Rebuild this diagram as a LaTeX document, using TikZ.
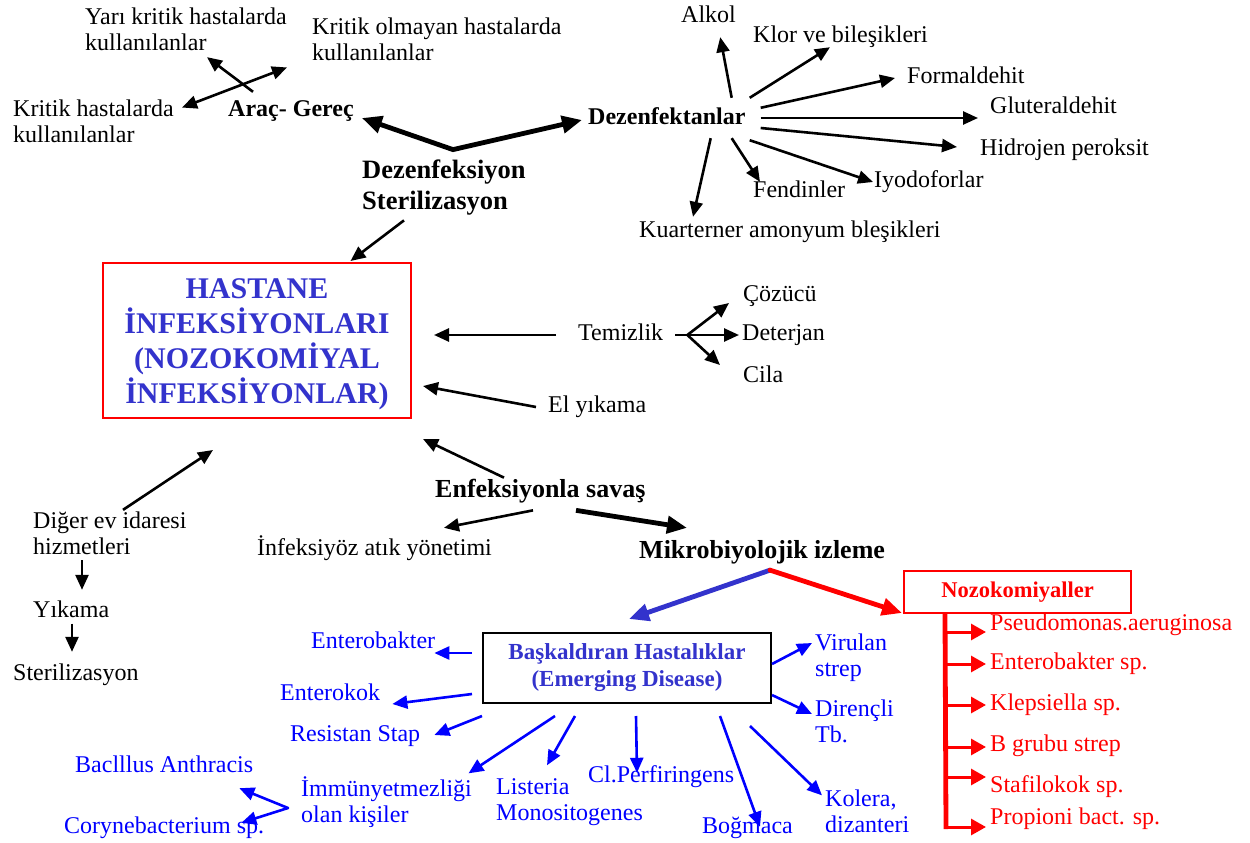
\documentclass[tikz,border=0pt]{standalone}
\usepackage{fontspec}
\setmainfont{Liberation Serif}
\usetikzlibrary{arrows.meta}
\definecolor{hsblue}{HTML}{0000FF}
\definecolor{hsindigo}{HTML}{3333CC}
\definecolor{hsred}{HTML}{FF0000}

\begin{document}
\begin{tikzpicture}[x=1pt, y=-1pt,
  lbl/.style={anchor=west, inner sep=0pt, font=\fontsize{24}{26}\selectfont, text height=16.8pt, text depth=6pt},
  lbls/.style={anchor=west, inner sep=0pt, font=\fontsize{24}{26}\selectfont, align=left},
  hd/.style={anchor=west, inner sep=0pt, font=\bfseries\fontsize{24}{26}\selectfont, text height=16.8pt, text depth=6pt},
  bhd/.style={anchor=west, inner sep=0pt, font=\bfseries\fontsize{26}{31}\selectfont, text height=18.2pt, text depth=6.5pt},
  bhds/.style={anchor=west, inner sep=0pt, font=\bfseries\fontsize{26.5}{31}\selectfont, align=left},
  blbl/.style={lbl, text=hsblue},
  blbls/.style={lbls, text=hsblue},
  rlbl/.style={lbl, text=hsred},
  arr/.style={-{Triangle[length=15pt, width=13pt]}, line width=2.6pt},
  tarr/.style={-{Triangle[length=20pt, width=17pt]}, line width=4.8pt},
  barr/.style={arr, draw=hsblue},
  rarr/.style={-{Triangle[length=15pt, width=16pt]}, line width=3pt, draw=hsred}
]
\useasboundingbox (0,0) rectangle (1250,843);

% arac gerec
\node[lbls] (yari) at (85,29.5) {Yarı kritik hastalarda\\kullanılanlar};
\node[lbls] (olmayan) at (312,39) {Kritik olmayan hastalarda\\kullanılanlar};
\node[lbls] (kritik) at (13,121.5) {Kritik hastalarda\\kullanılanlar};
\node[hd] (arac) at (228,111) {Araç- Gereç};
\node[bhds] (dezst) at (362,187.5) {Dezenfeksiyon\\Sterilizasyon};
\coordinate (dv) at ([shift={(91,-10)}]dezst.north west);
\draw[arr] ([shift={(25,-7.6)}]arac.north west) -- ([shift={(122,6)}]yari.south west);
\draw[arr, {Triangle[length=15pt, width=13pt]}-{Triangle[length=15pt, width=13pt]}] ([shift={(8,7.7)}]kritik.north east) -- ([shift={(-25,6.8)}]olmayan.south west);

% dezenfektanlar
\node[hd] (dezf) at (588,119) {Dezenfektanlar};
\node[lbl] (alkol) at (681,17) {Alkol};
\node[lbl] (klor) at (753,37) {Klor ve bileşikleri};
\node[lbl] (form) at (907,78) {Formaldehit};
\node[lbl] (glut) at (990,108) {Gluteraldehit};
\node[lbl] (hidro) at (980,150) {Hidrojen peroksit};
\node[lbl] (iyod) at (874,182) {Iyodoforlar};
\node[lbl] (fend) at (753,192) {Fendinler};
\node[lbl] (kuart) at (639,232) {Kuarterner amonyum bleşikleri};
\draw[tarr, {Triangle[length=20pt, width=17pt]}-{Triangle[length=20pt, width=17pt]}] ([shift={(8,7)}]arac.east) -- (dv) -- ([shift={(-6,1)}]dezf.west);
\draw[arr] ([shift={(-14,-9.6)}]dezf.north east) -- ([shift={(11.7,8.6)}]alkol.south);
\draw[arr] ([shift={(4,-9.6)}]dezf.north east) -- ([shift={(77,-1.4)}]klor.south west);
\draw[arr] ([shift={(15,0.4)}]dezf.north east) -- ([shift={(-12,0)}]form.west);
\draw[arr] ([shift={(15,-1)}]dezf.east) -- ([shift={(-12,10)}]glut.west);
\draw[arr] ([shift={(15,9)}]dezf.east) -- ([shift={(-23,-3)}]hidro.west);
\draw[arr] ([shift={(4,9.6)}]dezf.south east) -- ([shift={(-1,0)}]iyod.west);
\draw[arr] ([shift={(-14,7.6)}]dezf.south east) -- ([shift={(7,1.4)}]fend.north west);
\draw[arr] ([shift={(-35,7.6)}]dezf.south east) -- ([shift={(54,-3.6)}]kuart.north west);

% hastane infeksiyonlari
\node[draw=hsred, line width=2pt, minimum width=308pt, minimum height=155pt, align=center, text=hsindigo, font=\bfseries\fontsize{30}{35}\selectfont] (hast) at (257,340.5) {\\[-8pt]HASTANE\\İNFEKSİYONLARI\\(NOZOKOMİYAL\\İNFEKSİYONLAR)};
\draw[arr] ([shift={(42,5)}]dezst.south west) -- ([shift={(-61.5,-1)}]hast.north east);

% temizlik
\node[lbl] (temiz) at (578,335) {Temizlik};
\node[lbl] (cozucu) at (743,296) {Çözücü};
\node[lbl] (deter) at (742,335) {Deterjan};
\node[lbl] (cila) at (743,377) {Cila};
\node[lbl] (elyk) at (548,407) {El yıkama};
\coordinate (tfork) at ([shift={(24,0)}]temiz.east);
\draw[arr] ([shift={(-22,0)}]temiz.west) -- ([shift={(22,-5.5)}]hast.east);
\draw[line width=2.6pt] ([shift={(12,0)}]temiz.east) -- (tfork);
\draw[arr] (tfork) -- ([shift={(-14,7)}]cozucu.west);
\draw[arr] (tfork) -- ([shift={(-3,0)}]deter.west);
\draw[arr] (tfork) -- ([shift={(-23,-12)}]cila.west);
\draw[arr] ([shift={(-12,0)}]elyk.west) -- ([shift={(11,-33)}]hast.south east);

% enfeksiyonla savas
\node[bhd] (savas) at (435,492) {Enfeksiyonla savaş};
\node[lbl] (atik) at (257,550) {İnfeksiyöz atık yönetimi};
\node[bhd] (mikro) at (639,553) {Mikrobiyolojik izleme};
\draw[arr] ([shift={(69,-1.8)}]savas.north west) -- ([shift={(11,20)}]hast.south east);
\draw[arr] ([shift={(98,5.8)}]savas.south west) -- ([shift={(187,-10.6)}]atik.north west);
\draw[tarr] ([shift={(141,5.8)}]savas.south west) -- ([shift={(48,-12.6)}]mikro.north west);

% ev idaresi
\node[lbls] (diger) at (33,533.5) {Diğer ev idaresi\\hizmetleri};
\node[lbl] (yikama) at (33,612) {Yıkama};
\node[lbl] (steril) at (13,675) {Sterilizasyon};
\draw[arr] ([shift={(90,-2)}]diger.north west) -- ([shift={(111,31)}]hast.south west);
\draw[arr] ([shift={(49,5)}]diger.south west) -- ([shift={(49,-10.6)}]yikama.north west);
\draw[arr] ([shift={(39,0)}]yikama.south west) -- ([shift={(59,-11.6)}]steril.north west);

% mikrobiyolojik izleme
\coordinate (mv) at ([shift={(131,4.6)}]mikro.south west);
\node[draw, line width=2pt, minimum width=288pt, minimum height=70pt, align=center, text=hsindigo, font=\bfseries\fontsize{23}{27}\selectfont] (bask) at (627,668) {Başkaldıran Hastalıklar\\(Emerging Disease)};
\node[draw=hsred, line width=2pt, minimum width=227pt, minimum height=42pt, text=hsred, font=\bfseries\fontsize{22.5}{26}\selectfont] (noz) at (1017.5,592) {Nozokomiyaller};
\draw[tarr, draw=hsindigo, line cap=round] (mv) -- ([shift={(2,-13)}]bask.north);
\draw[tarr, draw=hsred, line cap=round] (mv) -- ([shift={(-1,-1)}]noz.south west);

% nozokomiyaller
\node[rlbl] (ps) at (990,625) {Pseudomonas.aeruginosa};
\node[rlbl] (entsp) at (990,664) {Enterobakter sp.};
\node[rlbl] (klep) at (990,705) {Klepsiella sp.};
\node[rlbl] (bgr) at (990,746) {B grubu strep};
\node[rlbl] (staf) at (990,787) {Stafilokok sp.};
\node[rlbl] (prop) at (990,819) {Propioni bact. sp.};
\draw[hsred, line width=4.8pt] ([shift={(42,0)}]noz.south west) -- ([shift={(-44,10)}]prop.west);
\draw[rarr] ([shift={(-46,7)}]ps.west) -- ([shift={(-4,7)}]ps.west);
\draw[rarr] ([shift={(-46,0)}]entsp.west) -- ([shift={(-4,0)}]entsp.west);
\draw[rarr] ([shift={(-46,0)}]klep.west) -- ([shift={(-4,0)}]klep.west);
\draw[rarr] ([shift={(-46,1)}]bgr.west) -- ([shift={(-4,1)}]bgr.west);
\draw[rarr] ([shift={(-46,-10)}]staf.west) -- ([shift={(-4,-10)}]staf.west);
\draw[rarr] ([shift={(-46,8)}]prop.west) -- ([shift={(-4,8)}]prop.west);

% baskaldiran hastaliklar
\node[blbl] (entb) at (311,643) {Enterobakter};
\node[blbl] (entk) at (280,695) {Enterokok};
\node[blbl] (res) at (290,736) {Resistan Stap};
\node[blbls] (imm) at (301,802) {İmmünyetmezliği\\olan kişiler};
\node[blbls] (lis) at (496,802) {Listeria\\Monositogenes};
\node[blbl] (clp) at (588,777) {Cl.Perfiringens};
\node[blbl] (bog) at (702,828) {Boğmaca};
\node[blbls] (kol) at (825,811) {Kolera,\\dizanteri};
\node[blbls] (vir) at (815,657.5) {Virulan\\strep};
\node[blbls] (dir) at (815,721) {Dirençli\\Tb.};
\node[blbl] (bac) at (75,767) {Baclllus Anthracis};
\node[blbl] (cor) at (64,828) {Corynebacterium sp.};
\draw[barr] ([shift={(-10,-15)}]bask.west) -- ([shift={(-1,10)}]entb.east);
\draw[barr] ([shift={(-10,26)}]bask.west) -- ([shift={(12,9)}]entk.east);
\draw[barr] ([shift={(0,12)}]bask.south west) -- ([shift={(14,-1)}]res.east);
\draw[barr] ([shift={(73,12)}]bask.south west) -- ([shift={(-3.5,-3)}]imm.north east);
\draw[barr] ([shift={(93,12)}]bask.south west) -- ([shift={(51,-13)}]lis.north west);
\draw[barr] ([shift={(154,12)}]bask.south west) -- ([shift={(49,7.4)}]clp.north west);
\draw[barr] ([shift={(-52,12)}]bask.south east) -- ([shift={(58,10.4)}]bog.north west);
\draw[barr] ([shift={(-22,22)}]bask.south east) -- ([shift={(-3,6)}]kol.north west);
\draw[barr] ([shift={(0,-4)}]bask.east) -- ([shift={(-3,-14.5)}]vir.west);
\draw[barr] ([shift={(0,27)}]bask.east) -- ([shift={(-3,-7)}]dir.west);
\coordinate (ifork) at ([shift={(-13,6)}]imm.west);
\draw[barr, line cap=round] (ifork) -- ([shift={(-14,9.6)}]bac.south east);
\draw[barr, line cap=round] (ifork) -- ([shift={(-23,6.4)}]cor.north east);
\end{tikzpicture}
\end{document}
